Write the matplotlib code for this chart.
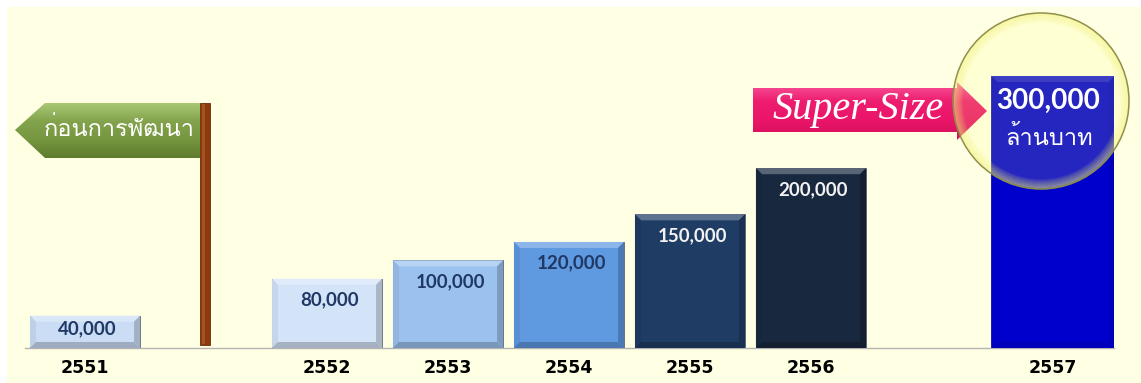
import numpy as np
import matplotlib
matplotlib.use("Agg")
import matplotlib.pyplot as plt
import matplotlib.patches as patches
from matplotlib import colors, font_manager
from matplotlib.ft2font import FT2Font

# ---- data ----
years = ['2551', '2552', '2553', '2554', '2555', '2556', '2557']
budget = [40000, 80000, 100000, 120000, 150000, 200000, 300000]
slots = [0, 2, 3, 4, 5, 6, 8]          # empty slots 1 and 7 left open
bar_colors = ['#CADDF5', '#D3E3F8', '#9BC2EF', '#5F99E0', '#1F3C64', '#18283F', '#0000CC']
label_colors = ['#1F3864', '#1F3864', '#1F3864', '#1F3864', '#F2F2F2', '#F2F2F2', 'white']
widths = [0.91] * 6 + [1.02]

before_txt = 'ก่อนการพัฒนา'
unit_txt = 'ล้านบาท'
super_txt = 'Super-Size'

cream = '#FFFFE3'


def find_thai():
    for f in font_manager.fontManager.ttflist:
        try:
            ft = FT2Font(f.fname)
            if ft.get_char_index(0x0E01) and ft.get_char_index(0x0E1E):
                return f.name
        except Exception:
            pass
    return 'DejaVu Sans'


def find_bold(names):
    for n in names:
        for f in font_manager.fontManager.ttflist:
            if f.name == n and f.style == 'normal' and (
                    f.weight == 'bold' or (isinstance(f.weight, int) and f.weight >= 700)):
                return n
    return 'DejaVu Sans'


thai = find_thai()
boldfam = find_bold(['Lato', 'Open Sans', 'Noto Sans', 'Roboto', 'Liberation Sans'])


def blend(c, other, t):
    c = np.array(colors.to_rgb(c))
    o = np.array(colors.to_rgb(other))
    return tuple(c * (1 - t) + o * t)


W, H = 1141, 383
fig = plt.figure(figsize=(W / 100, H / 100), dpi=100)
fig.patch.set_facecolor(cream)

# main axes: baseline at y=348 px, 0.922 px per 1000
ax = fig.add_axes([24.5 / W, 35 / H, 1089 / W, 343 / H])
ax.set_facecolor(cream)
y0 = 5000
ax.set_xlim(-0.5, 8.5)
ax.set_ylim(y0, y0 + 343 / 0.922 * 1000)

ax.bar(slots, budget, width=widths, color=bar_colors, edgecolor='#5A6373',
       linewidth=0.6, zorder=2)

# bevel edges
bx = 6 / 121
by = 6 / 0.922 * 1000
for x, v, w, c in zip(slots, budget, widths, bar_colors):
    L, R, T, B = x - w / 2, x + w / 2, v, y0
    k = 1.0 if c != '#0000CC' else 0.4
    polys = [
        ([(L, T), (R, T), (R - bx, T - by), (L + bx, T - by)], blend(c, 'white', 0.28 * k)),
        ([(L, B), (L, T), (L + bx, T - by), (L + bx, B + by)], blend(c, 'black', 0.06 * k)),
        ([(R, B), (R, T), (R - bx, T - by), (R - bx, B + by)], blend(c, 'black', 0.2 * k)),
        ([(L, B), (R, B), (R - bx, B + by), (L + bx, B + by)], blend(c, 'black', 0.22 * k)),
    ]
    for pts, col in polys:
        ax.add_patch(patches.Polygon(pts, closed=True, facecolor=col,
                                     edgecolor='none', zorder=3))

# value labels inside bars (last one handled in the highlight circle)
for x, v, lc in zip(slots[:-1], budget[:-1], label_colors[:-1]):
    ly = max(v - 23000, v * 0.65)
    ax.text(x + 0.02, ly, f'{v:,}', ha='center', va='center', color=lc,
            fontsize=13.5, fontweight='bold', family=boldfam, zorder=4)

for s in ['top', 'left', 'right']:
    ax.spines[s].set_visible(False)
ax.spines['bottom'].set_color('#B4B4B4')
ax.spines['bottom'].set_linewidth(1)
ax.set_xticks(slots)
ax.set_xticklabels(years, fontweight='bold', fontsize=12.5, family='DejaVu Sans')
ax.tick_params(axis='x', length=0, pad=8)
ax.set_yticks([])

# ---- overlay decorations in pixel coordinates ----
ov = fig.add_axes([0, 0, 1, 1], zorder=3)
ov.axis('off')


def grad_fill(pts, stops, zorder):
    poly = patches.Polygon(pts, closed=True, facecolor='none', edgecolor='none', zorder=zorder)
    ov.add_patch(poly)
    xs = [p[0] for p in pts]
    ys = [p[1] for p in pts]
    cmap = colors.LinearSegmentedColormap.from_list('g', stops)
    im = ov.imshow(np.linspace(0, 1, 64)[:, None], cmap=cmap, aspect='auto',
                   extent=(min(xs), max(xs), max(ys), min(ys)), zorder=zorder)
    im.set_clip_path(poly)


ov.add_patch(patches.Rectangle((0, 0), W, 7, facecolor='white', edgecolor='none'))
ov.add_patch(patches.Rectangle((0, 0), 7, H, facecolor='white', edgecolor='none'))

# green "before" banner and pole
banner = [(15, 130), (45, 103), (200, 103), (200, 158), (45, 158)]
grad_fill(banner, ['#A9C874', '#82A24B', '#76963F', '#5E7C2D'], 2)
ov.text(119, 129, before_txt, ha='center', va='center', color='white',
        fontsize=17, family=[thai, 'DejaVu Sans'], zorder=5)
ov.add_patch(patches.Rectangle((200, 103), 10, 242, facecolor='#8A3A0C',
                               edgecolor='#6A2A08', lw=0.6, zorder=4))
ov.add_patch(patches.Rectangle((201.5, 104), 3, 240, facecolor='#A65220',
                               edgecolor='none', zorder=4))

# pink arrow
arrow = [(753, 88), (957, 88), (957, 82), (987, 111), (957, 140), (957, 132), (753, 132)]
grad_fill(arrow, ['#F7559A', '#EE1C6F', '#EA1568', '#D50F5C'], 2)
ov.text(858, 110, super_txt, ha='center', va='center', color='white',
        fontsize=29, style='italic', family='Liberation Serif', zorder=5)

# highlight circle over last bar
cx, cy, r = 1041, 101, 88
ov.add_patch(patches.Circle((cx, cy), r, facecolor='#FFFF80', alpha=0.15,
                            edgecolor='none', zorder=3))
for i, rr in enumerate(np.linspace(r - 1, r - 9, 9)):
    ov.add_patch(patches.Circle((cx, cy), rr, fill=False, edgecolor='#F2F27A',
                                alpha=0.35 - i * 0.035, lw=1.2, zorder=3))
ov.add_patch(patches.Circle((cx, cy), r, fill=False, edgecolor='#8F8F4A',
                            lw=1.1, zorder=3))
ov.text(1048, 101, f'{budget[-1]:,}', ha='center', va='center', color='white',
        fontsize=20, fontweight='bold', family=boldfam, zorder=5)
ov.text(1049, 138, unit_txt, ha='center', va='center', color='white',
        fontsize=17, family=[thai, 'DejaVu Sans'], zorder=5)

ov.set_xlim(0, W)
ov.set_ylim(H, 0)

fig.savefig('out.png', dpi=100, facecolor=fig.get_facecolor())
